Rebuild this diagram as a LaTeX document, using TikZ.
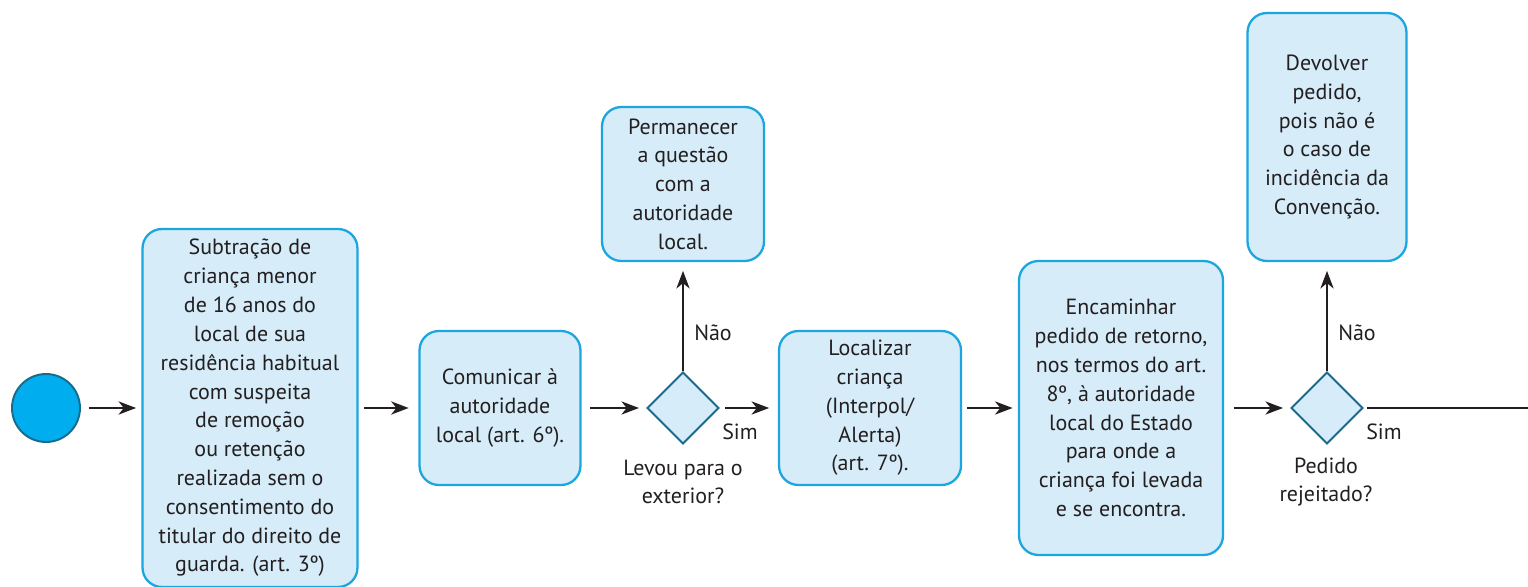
\documentclass[tikz,border=0pt]{standalone}
\usepackage{fontspec}
\setmainfont{PT Sans}
\usetikzlibrary{shapes.geometric,arrows.meta}

\definecolor{boxfill}{HTML}{D6ECF9}
\definecolor{boxline}{HTML}{1BA6E0}
\definecolor{startfill}{HTML}{00AEEF}
\definecolor{darkline}{HTML}{1A6A8C}
\definecolor{ink}{HTML}{231F20}

\tikzset{
  every node/.style={text=ink, font=\fontsize{12.5}{16.4}\selectfont},
  actbox/.style={draw=boxline, line width=1.3pt, fill=boxfill, rounded corners=11pt,
    align=center, inner sep=0pt},
  decision/.style={diamond, draw=darkline, line width=1.1pt, fill=boxfill,
    minimum width=1.44cm, minimum height=1.44cm, inner sep=0pt},
  flow/.style={-{Stealth[length=10pt,width=7.5pt,inset=3pt]}, line width=1.1pt, draw=ink},
}

\begin{document}
\begin{tikzpicture}[x=0.02cm, y=-0.02cm]

  % fixar margens como na figura
  \useasboundingbox (0,0) rectangle (1528,587);

  % 1. evento inicial
  \node[circle, draw=darkline, line width=1.1pt, fill=startfill, minimum size=1.36cm,
    inner sep=0pt] (inicio) at (46,408) {};

  % 2. caixas de atividade
  \node[actbox, minimum width=4.3cm, minimum height=7.16cm] (subtracao) at (250,408)
    {Subtração de\\criança menor\\de 16 anos do\\local de sua\\residência habitual\\com suspeita\\de remoção\\ou retenção\\realizada sem o\\consentimento do\\titular do direito de\\guarda. (art. 3º)};
  \node[actbox, minimum width=3.22cm, minimum height=3.08cm] (comunicar) at (500,408)
    {Comunicar à\\autoridade\\local (art. 6º).};
  \node[actbox, minimum width=3.24cm, minimum height=3.08cm] (permanecer) at (683,184)
    {Permanecer\\a questão\\com a\\autoridade\\local.};
  \node[actbox, minimum width=3.64cm, minimum height=3.08cm] (localizar) at (870,408)
    {Localizar\\criança\\(Interpol/\\Alerta)\\(art. 7º).};
  \node[actbox, minimum width=4.08cm, minimum height=5.88cm] (encaminhar) at (1121,408)
    {Encaminhar\\pedido de retorno,\\nos termos do art.\\8º, à autoridade\\local do Estado\\para onde a\\criança foi levada\\e se encontra.};
  \node[actbox, minimum width=3.18cm, minimum height=4.96cm] (devolver) at (1327,137)
    {Devolver\\pedido,\\pois não é\\o caso de\\incidência da\\Convenção.};

  % 3. decisões
  \node[decision] (exterior) at (683,408) {};
  \node[decision] (rejeitado) at (1327,408) {};
  \node[align=center] (exteriorlbl) at (683,482) {Levou para o\\exterior?};
  \node[align=center] (rejeitadolbl) at (1326,482) {Pedido\\rejeitado?};

  % 4. setas
  \draw[flow, shorten <=4.5pt, shorten >=3pt] (inicio) -- (subtracao);
  \draw[flow, shorten <=3pt, shorten >=5.5pt] (subtracao) -- (comunicar);
  \draw[flow, shorten <=5pt, shorten >=4pt] (comunicar) -- (exterior);
  \draw[flow, shorten <=3pt, shorten >=5pt] (exterior) -- (localizar);
  \draw[flow, shorten <=3pt, shorten >=3pt] (localizar) -- (encaminhar);
  \draw[flow, shorten <=5.5pt, shorten >=4pt] (encaminhar) -- (rejeitado);
  \draw[flow, shorten >=5pt] (exterior) -- (permanecer);
  \draw[flow, shorten >=5pt] (rejeitado) -- (devolver);
  \coordinate (saida) at (1528,408);
  \draw[line width=1.1pt, draw=ink, shorten <=2pt] (rejeitado) -- (saida);

  % rótulos Sim / Não
  \node (nao1) at (713,333) {Não};
  \node (sim1) at (740,432) {Sim};
  \node (nao2) at (1357,333) {Não};
  \node (sim2) at (1384,432) {Sim};

\end{tikzpicture}
\end{document}
